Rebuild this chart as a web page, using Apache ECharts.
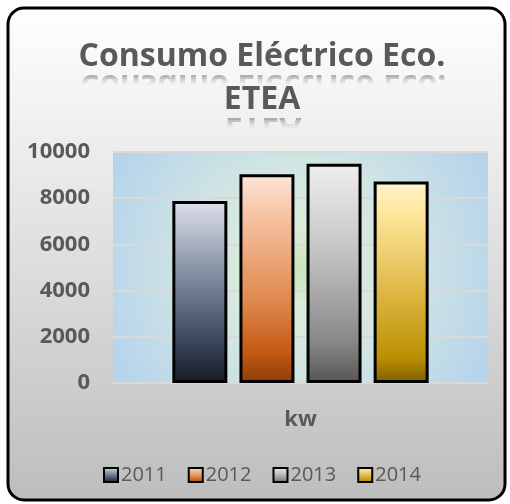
<!DOCTYPE html>
<html>
<head>
<meta charset="utf-8">
<script src="https://cdn.jsdelivr.net/npm/echarts@6/dist/echarts.min.js"></script>
<style>
    html, body { margin: 0; padding: 0; background: #fff; }
    #chart_main { width: 510px; height: 504px; }
</style>
</head>
<body>
<div id="chart_main"></div>
<script>
var categories = ['kw'];
var years = ['2011', '2012', '2013', '2014'];
var values = [7880, 9040, 9490, 8720];
var yTicks = [0, 2000, 4000, 6000, 8000, 10000];

var titleLines = ['Consumo Eléctrico Eco.', 'ETEA'];
var textGrey = '#595959';
var font = 'Open Sans';
var titleSize = 32;

function vGrad(stops, global) {
    var list = [];
    for (var i = 0; i < stops.length; i++) {
        list.push({offset: stops[i][0], color: stops[i][1]});
    }
    if (global) {
        return new echarts.graphic.LinearGradient(0, 8, 0, 500, list, true);
    }
    return new echarts.graphic.LinearGradient(0, 0, 0, 1, list);
}

var bgStops = [[0, '#ffffff'], [0.3, '#ececec'], [1, '#bdbdbd']];

// bar fills, top -> bottom
var barFills = [
    vGrad([[0, '#dde1ea'], [0.35, '#8d98ab'], [0.75, '#3e4a5e'], [1, '#161c26']]),
    vGrad([[0, '#fde6d9'], [0.2, '#f6c3a2'], [0.6, '#df8a50'], [0.85, '#c55a14'], [1, '#8e3c0a']]),
    vGrad([[0, '#efefef'], [0.4, '#c4c4c4'], [0.8, '#8a8a8a'], [1, '#555555']]),
    vGrad([[0, '#fff3cf'], [0.15, '#ffe79d'], [0.6, '#d9b13a'], [0.88, '#b98f00'], [1, '#7a5d00']])
];

// mirrored title line, faded out by strips of background laid over it
function reflection(text, y, halfWidth) {
    var els = [{
        type: 'text',
        x: 263,
        y: y,
        scaleY: -1,
        silent: true,
        z: 1,
        style: {
            x: 0,
            y: 0,
            text: text,
            font: 'bold ' + titleSize + 'px "' + font + '"',
            align: 'center',
            verticalAlign: 'bottom',
            fill: 'rgba(89,89,89,0.45)'
        }
    }];
    var steps = [[9, 0.3], [11, 0.35], [13, 0.45], [15, 0.6], [17, 1]];
    for (var i = 0; i < steps.length; i++) {
        els.push({
            type: 'rect',
            silent: true,
            z: 2,
            shape: {x: 263 - halfWidth, y: y + steps[i][0], width: 2 * halfWidth, height: 40 - steps[i][0]},
            style: {fill: vGrad(bgStops, true), opacity: steps[i][1]}
        });
    }
    return els;
}

var myChart = echarts.init(document.getElementById('chart_main'));

var series = [];
for (var i = 0; i < years.length; i++) {
    series.push({
        name: years[i],
        type: 'bar',
        data: [values[i]],
        barWidth: 55,
        barGap: '22%',
        itemStyle: {
            color: barFills[i],
            borderColor: '#000',
            borderWidth: 3
        }
    });
}

var graphics = [{
    type: 'rect',
    z: -10,
    silent: true,
    shape: {x: 8, y: 8, width: 497, height: 492, r: 16},
    style: {
        fill: vGrad(bgStops, true),
        stroke: '#000',
        lineWidth: 3
    }
}];
graphics = graphics.concat(reflection(titleLines[0], 68, 205), reflection(titleLines[1], 111, 60));

option = {
    animation: false,
    title: {
        text: titleLines.join('\n'),
        left: 257,
        top: 30,
        textAlign: 'center',
        textStyle: {
            fontFamily: font,
            fontSize: titleSize,
            fontWeight: 'bold',
            color: textGrey,
            lineHeight: 43
        }
    },
    graphic: graphics,
    legend: {
        data: years,
        left: 98,
        top: 460,
        itemWidth: 14,
        itemHeight: 14,
        itemGap: 21,
        icon: 'rect',
        itemStyle: {borderColor: '#000', borderWidth: 2},
        textStyle: {fontFamily: font, fontSize: 20, color: textGrey, padding: [0, 0, 0, -2]}
    },
    grid: {
        left: 113,
        right: 22,
        top: 152,
        bottom: 121,
        show: true,
        borderWidth: 0,
        backgroundColor: new echarts.graphic.RadialGradient(0.5, 0.5, 0.95, [
            {offset: 0, color: '#c9e2bc'},
            {offset: 0.18, color: '#dcecda'},
            {offset: 0.5, color: '#d0e4e3'},
            {offset: 1, color: '#b3d2ec'}
        ])
    },
    xAxis: {
        type: 'category',
        data: categories,
        axisTick: {show: false},
        axisLine: {lineStyle: {color: '#d9d9d9', width: 2}},
        axisLabel: {
            margin: 26,
            fontFamily: font,
            fontSize: 22,
            fontWeight: 'bold',
            color: textGrey
        }
    },
    yAxis: {
        type: 'value',
        min: yTicks[0],
        max: yTicks[yTicks.length - 1],
        interval: yTicks[1] - yTicks[0],
        axisLine: {show: false},
        axisTick: {show: false},
        splitLine: {lineStyle: {color: '#d9d9d9', width: 2}},
        axisLabel: {
            margin: 23,
            fontFamily: font,
            fontSize: 22,
            fontWeight: 'bold',
            color: textGrey,
            formatter: function (v) { return String(v); }
        }
    },
    series: series
};

myChart.setOption(option);
</script>
</body>
</html>
